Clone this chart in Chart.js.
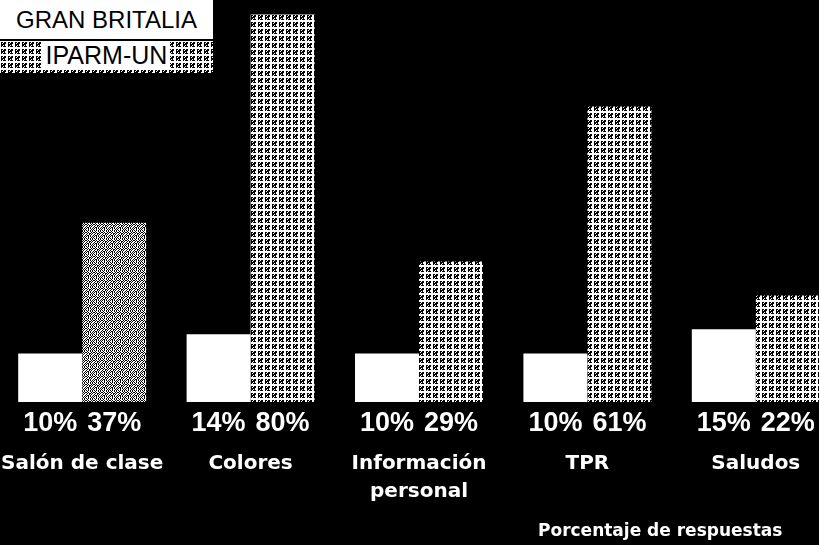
<!DOCTYPE html>
<html>
<head>
<meta charset="utf-8">
<script src="https://cdn.jsdelivr.net/npm/chart.js@4"></script>
<style>
  html, body { margin: 0; padding: 0; background: #000; width: 819px; height: 545px; overflow: hidden; }
  #wrap { position: absolute; left: -2px; top: 0; width: 842px; height: 545px; }
  .leg1 { position: absolute; left: 0; top: 0; width: 213px; height: 39px; background: #fff;
          font: 24px "Liberation Sans", Arial, sans-serif; color: #000; text-align: center; line-height: 40px; }
  .leg2 { position: absolute; left: 0; top: 41px; width: 213px; height: 32px; image-rendering: pixelated;
          text-align: center; line-height: 30px; }
  .leg2 span { background: #fff; color: #000; font: 25px "Liberation Sans", Arial, sans-serif; padding: 0 3px; }
  .note { position: absolute; left: 538px; top: 520px; width: 242px; text-align: center; color: #fff;
          font: bold 17px "DejaVu Sans", sans-serif; white-space: nowrap; }
</style>
</head>
<body>
<div id="wrap"><canvas id="c"></canvas></div>
<div class="leg1">GRAN BRITALIA</div>
<div class="leg2" id="leg2"><span>IPARM-UN</span></div>
<div class="note">Porcentaje de respuestas</div>
<script>
const categories = ['Salón de clase', 'Colores', ['Información', 'personal'], 'TPR', 'Saludos'];
const seriesNames = ['GRAN BRITALIA', 'IPARM-UN'];
const granBritalia = [10, 14, 10, 10, 15];
const iparmUn = [37, 80, 29, 61, 22];

function makePatternCanvas(rows) {
  const c = document.createElement('canvas');
  c.width = rows[0].length; c.height = rows.length;
  const g = c.getContext('2d');
  rows.forEach((r, y) => [...r].forEach((ch, x) => {
    g.fillStyle = ch === '#' ? '#000' : '#fff';
    g.fillRect(x, y, 1, 1);
  }));
  return c;
}
const gridCanvas = makePatternCanvas([
  ".......",
  ".##.##.",
  ".#.###.",
  ".####..",
  ".##.#..",
  ".#.###.",
  "......."
]);
const noiseCanvas = makePatternCanvas([
  "#.#..#.#",
  ".#.##.#.",
  "#..#.#..",
  ".##.#..#",
  "#.#.#.#.",
  "..#..#.#",
  "#.#.#.#.",
  ".#..#.#."
]);
document.getElementById('leg2').style.backgroundImage = 'url(' + gridCanvas.toDataURL() + ')';

const canvas = document.getElementById('c');
const ctx = canvas.getContext('2d');
const gridPat = ctx.createPattern(gridCanvas, 'repeat');
const noisePat = ctx.createPattern(noiseCanvas, 'repeat');
const greyFills = iparmUn.map((v, i) => i === 0 ? noisePat : gridPat);

const valueLabels = {
  id: 'valueLabels',
  afterDatasetsDraw(chart) {
    const c = chart.ctx;
    c.save();
    c.fillStyle = '#fff';
    c.font = 'bold 27px "Liberation Sans", Arial, sans-serif';
    c.textAlign = 'center';
    c.textBaseline = 'middle';
    chart.data.datasets.forEach((ds, di) => {
      chart.getDatasetMeta(di).data.forEach((bar, i) => {
        c.fillText(ds.data[i] + '%', bar.x, chart.chartArea.bottom + 22);
      });
    });
    c.restore();
  }
};

new Chart(canvas, {
  type: 'bar',
  data: {
    labels: categories,
    datasets: [
      { label: seriesNames[0], data: granBritalia, backgroundColor: '#fff', borderWidth: 0 },
      { label: seriesNames[1], data: iparmUn, backgroundColor: greyFills, borderWidth: 0 }
    ]
  },
  options: {
    responsive: true,
    maintainAspectRatio: false,
    animation: false,
    layout: { padding: 0 },
    categoryPercentage: 0.76,
    barPercentage: 1.0,
    plugins: { legend: { display: false }, tooltip: { enabled: false } },
    scales: {
      x: {
        grid: { display: false, drawTicks: true, tickLength: 48 },
        border: { display: false },
        ticks: {
          color: '#fff',
          font: { family: '"DejaVu Sans", sans-serif', size: 20, weight: 'bold', lineHeight: 1.4 },
          padding: 0,
          maxRotation: 0,
          autoSkip: false
        },
        afterFit(s) { s.height = 143; s.paddingLeft = 0; s.paddingRight = 0; }
      },
      y: { display: false, min: 0, max: 83 }
    }
  },
  plugins: [valueLabels]
});
</script>
</body>
</html>
